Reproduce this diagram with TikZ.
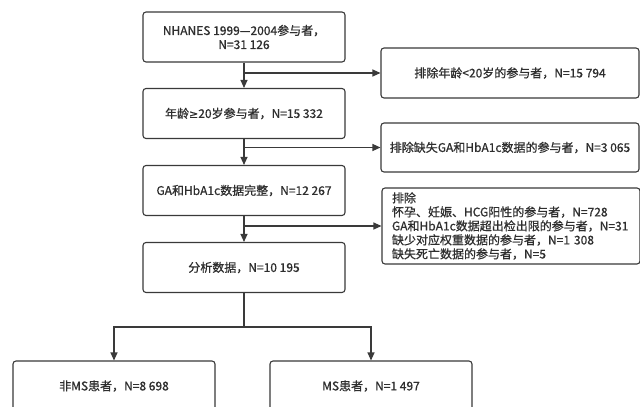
\documentclass[tikz,border=0pt]{standalone}
\usepackage{fontspec}
\setmainfont{Noto Sans CJK SC}[FakeBold=0.7]
\newfontfamily\symf{DejaVu Sans}[FakeBold=0.3]
\usetikzlibrary{arrows.meta}
\definecolor{lncol}{HTML}{3A3A3A}
\definecolor{txcol}{HTML}{2E2E2E}
\begin{document}
\begin{tikzpicture}[x=1pt,y=-1pt,
  box/.style={draw=lncol, line width=1.1pt, rounded corners=3pt, minimum width=202pt,
    minimum height=50pt, inner sep=0pt, align=center, text=txcol,
    font=\fontsize{12}{14}\selectfont},
  rbox/.style={box, minimum width=258pt},
  conn/.style={draw=lncol, line width=1.1pt},
  arr/.style={conn, -{Triangle[length=8pt,width=7pt]}}]
\useasboundingbox (0,0) rectangle (640,407);
\clip (0,0) rectangle (640,407);
\fill[white] (0,0) rectangle (640,407);
% main column
\node[box] (n1) at (244,37) {NHANES 1999—2004参与者，\\N=31 126};
\node[box] (n2) at (244,113.5) {年龄{\symf\fontsize{11}{14}\selectfont ≥}20岁参与者，N=15 332};
\node[box] (n3) at (244,190.5) {GA和HbA1c数据完整，N=12 267};
\node[box] (n4) at (244,267.5) {分析数据，N=10 195};
% exclusion boxes
\node[rbox] (r1) at (510,73) {排除年龄<20岁的参与者，N=15 794};
\node[rbox, minimum height=49pt] (r2) at (510,147.5) {排除缺失GA和HbA1c数据的参与者，N=3 065};
\node[rbox, minimum height=76pt, text width=238pt, align=left] (r3) at (511,226)
  {排除\\怀孕、妊娠、HCG阳性的参与者，N=728\\GA和HbA1c数据超出检出限的参与者，N=31\\缺少对应权重数据的参与者，N=1 308\\缺失死亡数据的参与者，N=5};
% bottom boxes
\node[box] (bl) at (114,386) {非MS患者，N=8 698};
\node[box] (br) at (371,386) {MS患者，N=1 497};
% connectors
\draw[arr] (n1.south) -- (n2.north);
\draw[arr] (n2.south) -- (n3.north);
\draw[arr] (n3.south) -- (n4.north);
\coordinate (b1) at (n1.south |- r1.west);
\coordinate (b2) at (n2.south |- r2.west);
\coordinate (b3) at (n3.south |- r3.west);
\draw[arr] (b1) -- (r1.west);
\draw[arr] (b2) -- (r2.west);
\draw[arr] (b3) -- (r3.west);
\coordinate (sp) at (244,327);
\draw[conn] (n4.south) -- (sp);
\draw[arr] (sp) -| (bl.north);
\draw[arr] (sp) -| (br.north);
\end{tikzpicture}
\end{document}
